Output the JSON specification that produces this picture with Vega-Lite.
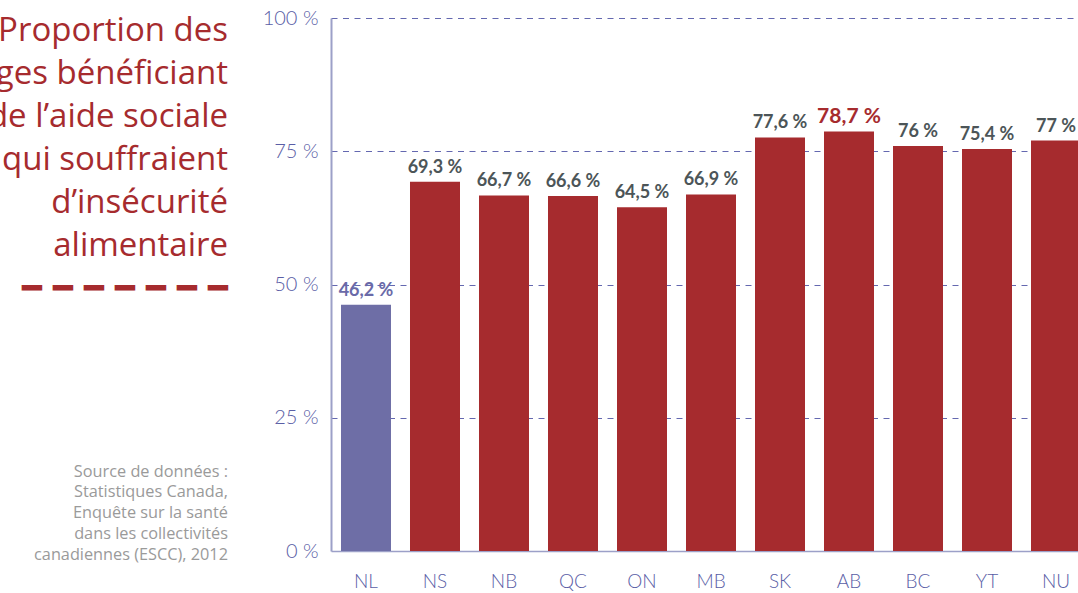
{
  "$schema": "https://vega.github.io/schema/vega-lite/v6.json",
  "autosize": {"type": "none"},
  "padding": {"left": 331, "top": 18, "right": 0, "bottom": 42},
  "width": 747,
  "height": 533,
  "background": "white",
  "config": {
    "view": {"stroke": null},
    "font": "Lato"
  },
  "title": {
    "text": ["Proportion des", "ménages bénéficiant", "de l’aide sociale", "qui souffraient", "d’insécurité", "alimentaire", "━\u2004━\u2004━\u2004━\u2004━\u2004━\u2004━"],
    "subtitle": ["Source de données :", "Statistiques Canada,", "Enquête sur la santé", "dans les collectivités", "canadiennes (ESCC), 2012"],
    "anchor": "start",
    "frame": "group",
    "orient": "top",
    "align": "right",
    "baseline": "top",
    "dx": -103,
    "dy": 555,
    "offset": 0,
    "font": "Open Sans",
    "fontSize": 33,
    "fontWeight": 400,
    "color": "#a62b2e",
    "lineHeight": 43,
    "subtitleFont": "Open Sans",
    "subtitleFontSize": 16.3,
    "subtitleFontWeight": 400,
    "subtitleColor": "#9a9a9a",
    "subtitleLineHeight": 20.8,
    "subtitlePadding": 158
  },
  "data": {
    "values": [
      {"prov": "NL", "pct": 46.2, "label": "46,2 %"},
      {"prov": "NS", "pct": 69.3, "label": "69,3 %"},
      {"prov": "NB", "pct": 66.7, "label": "66,7 %"},
      {"prov": "QC", "pct": 66.6, "label": "66,6 %"},
      {"prov": "ON", "pct": 64.5, "label": "64,5 %"},
      {"prov": "MB", "pct": 66.9, "label": "66,9 %"},
      {"prov": "SK", "pct": 77.6, "label": "77,6 %"},
      {"prov": "AB", "pct": 78.7, "label": "78,7 %"},
      {"prov": "BC", "pct": 76, "label": "76 %"},
      {"prov": "YT", "pct": 75.4, "label": "75,4 %"},
      {"prov": "NU", "pct": 77, "label": "77 %"}
    ]
  },
  "encoding": {
    "x": {
      "field": "prov",
      "type": "nominal",
      "sort": null,
      "scale": {"range": [0, 760], "paddingInner": 0.2754, "paddingOuter": 0.1449},
      "axis": {
        "title": null,
        "labelAngle": 0,
        "ticks": false,
        "domainColor": "#9ca0c8",
        "domainWidth": 1.5,
        "labelPadding": 21,
        "labelFontSize": 19,
        "labelFont": "Lato",
        "labelFontWeight": 300,
        "labelColor": "#5a5ea6"
      }
    },
    "y": {
      "field": "pct",
      "type": "quantitative",
      "scale": {"domain": [0, 100], "nice": false},
      "axis": {
        "title": null,
        "values": [0, 25, 50, 75, 100],
        "labelExpr": "datum.value + ' %'",
        "ticks": false,
        "domainColor": "#9ca0c8",
        "domainWidth": 2,
        "labelPadding": 13,
        "labelFontSize": 20,
        "labelFont": "Lato",
        "labelFontWeight": 300,
        "labelColor": "#5a5ea6",
        "grid": true,
        "gridColor": "#6468b0",
        "gridDash": [6, 5.5],
        "gridWidth": 1,
        "gridOpacity": {"condition": {"test": "datum.value === 0", "value": 0}, "value": 1}
      }
    }
  },
  "layer": [
    {
      "mark": {"type": "bar"},
      "encoding": {
        "color": {"condition": {"test": "datum.prov === 'NL'", "value": "#6e6ea6"}, "value": "#a62b2e"}
      }
    },
    {
      "mark": {"type": "text", "baseline": "alphabetic", "dy": -9, "fontWeight": "bold", "font": "Lato"},
      "encoding": {
        "text": {"field": "label"},
        "color": {"condition": [{"test": "datum.prov === 'NL'", "value": "#6a6aa8"}, {"test": "datum.prov === 'AB'", "value": "#a62b2e"}], "value": "#4c5558"},
        "size": {"condition": {"test": "datum.prov === 'AB'", "value": 21}, "value": 18}
      }
    }
  ]
}
